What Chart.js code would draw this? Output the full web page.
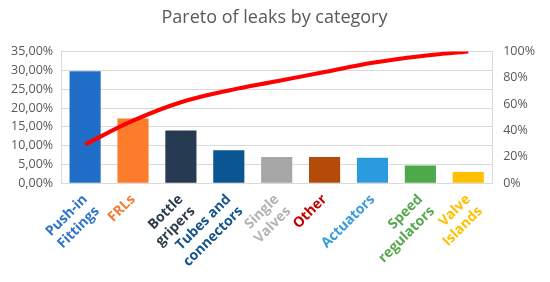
<!DOCTYPE html>
<html>
<head>
<meta charset="utf-8">
<script src="https://cdn.jsdelivr.net/npm/chart.js@4/dist/chart.umd.min.js"></script>
<style>
html,body{margin:0;padding:0;background:#fff;}
#wrap{width:550px;height:282px;position:relative;}
</style>
</head>
<body>
<div id="wrap"><canvas id="c" width="550" height="282"></canvas></div>
<script>
const categories = [["Push-in","Fittings"],["FRLs"],["Bottle","gripers"],["Tubes and","connectors"],["Single","Valves"],["Other"],["Actuators"],["Speed","regulators"],["Valve","Islands"]];
const leakShare = [29.8, 17.2, 14.0, 8.8, 7.0, 7.0, 6.8, 4.7, 3.0];
const cumulative = [29.5, 47.5, 61.5, 70.5, 77.5, 84.5, 91.5, 96.5, 100];
const barColors = ["#1f6fc8","#fb7d2b","#263a52","#0b5692","#a6a6a6","#b44b08","#2b9be0","#4ea94b","#ffc000"];
const labelColors = ["#2f75c9","#f47b30","#2e3b4d","#15548b","#b3b3b3","#c00000","#3b9ad9","#56a84f","#ffc000"];
const leftTicks = [0,5,10,15,20,25,30,35];
const rightTicks = [0,20,40,60,80,100];

new Chart(document.getElementById('c'), {
  data: {
    labels: categories,
    datasets: [
      {
        type: 'line',
        data: cumulative,
        yAxisID: 'y2',
        borderColor: '#ff0000',
        borderWidth: 4,
        pointRadius: 0,
        tension: 0.35,
        order: 0
      },
      {
        type: 'bar',
        data: leakShare,
        yAxisID: 'y',
        backgroundColor: barColors,
        categoryPercentage: 1,
        barPercentage: 0.65,
        order: 1
      }
    ]
  },
  options: {
    responsive: false,
    animation: false,
    layout: { padding: { left: 3, right: 4, top: 0, bottom: 12 } },
    plugins: {
      legend: { display: false },
      tooltip: { enabled: false },
      title: {
        display: true,
        text: 'Pareto of leaks by category',
        color: '#595959',
        font: { family: 'Open Sans', size: 18, weight: 'normal' },
        padding: { top: 7, bottom: 23 }
      }
    },
    scales: {
      x: {
        grid: { display: false },
        border: { color: '#d9d9d9' },
        ticks: {
          color: labelColors,
          font: { family: 'Open Sans', size: 14, weight: 'bold' },
          minRotation: 45,
          maxRotation: 45,
          autoSkip: false,
          padding: 0
        }
      },
      y: {
        position: 'left',
        min: 0, max: 35,
        afterBuildTicks: (a) => { a.ticks = leftTicks.map(v => ({value: v})); },
        grid: { color: '#d9d9d9', drawTicks: false },
        border: { color: '#d9d9d9' },
        ticks: {
          color: '#595959',
          font: { family: 'Open Sans', size: 12.5 },
          padding: 8,
          callback: (v) => v.toFixed(2).replace('.', ',') + '%'
        }
      },
      y2: {
        position: 'right',
        min: 0, max: 100,
        afterBuildTicks: (a) => { a.ticks = rightTicks.map(v => ({value: v})); },
        grid: { display: false, drawTicks: false },
        border: { color: '#d9d9d9' },
        ticks: {
          color: '#595959',
          font: { family: 'Open Sans', size: 12.5 },
          padding: 11,
          callback: (v) => v + '%'
        }
      }
    }
  }
});
</script>
</body>
</html>
